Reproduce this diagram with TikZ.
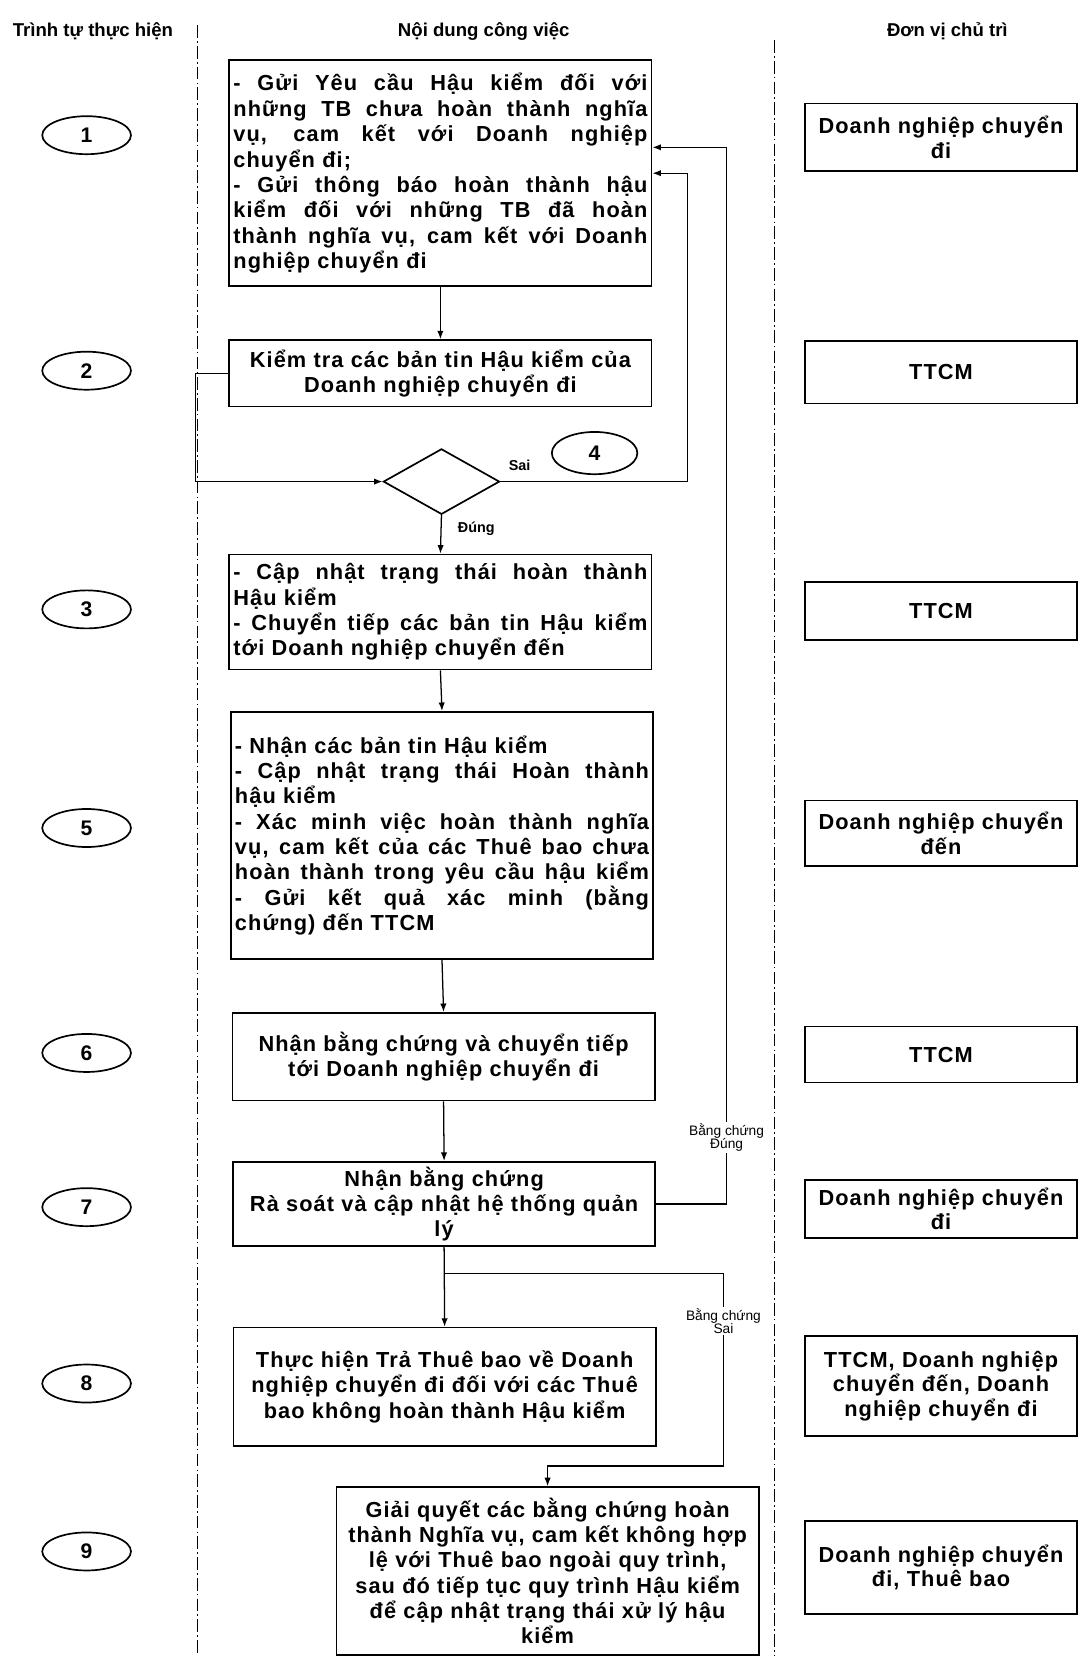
\documentclass[tikz,border=0pt]{standalone}
\usepackage{fontspec}
\setmainfont{Liberation Sans}
\newfontfamily\boxfont{Liberation Sans}[LetterSpace=5]
\newfontfamily\hdfont{Liberation Sans}
\usetikzlibrary{arrows.meta,shapes.geometric,calc}
\newcommand{\jl}[1]{\makebox[\linewidth][s]{\spaceskip=\fontdimen2\font plus 1fil\relax #1}\\}
\tikzset{
  pbox/.style={draw, line width=0.8pt, inner xsep=2pt, inner ysep=2pt, text width=196pt,
    font={\boxfont\bfseries\fontsize{10.3}{12}\selectfont}},
  jbox/.style={pbox, align=left},
  cbox/.style={pbox, align=center},
  rbox/.style={draw, line width=0.8pt, minimum width=129pt, text width=125pt, align=center, inner sep=2pt,
    font={\boxfont\bfseries\fontsize{10.3}{11.5}\selectfont}},
  numell/.style={ellipse, draw, line width=0.8pt, minimum width=42pt, minimum height=18pt, inner sep=0pt,
    font={\hdfont\bfseries\fontsize{10}{12}\selectfont}},
  arr/.style={-{Latex[length=4pt,width=3pt]}, line width=0.6pt},
  lane/.style={line width=0.5pt, dash pattern=on 6pt off 1.5pt on 0.8pt off 1.5pt},
  hdr/.style={font={\hdfont\bfseries\fontsize{8.8}{10}\selectfont}},
  lbl/.style={font={\hdfont\bfseries\fontsize{6.8}{7.5}\selectfont}, inner sep=0.5pt},
  lbl2/.style={font={\hdfont\fontsize{6.5}{6.5}\selectfont}, inner sep=0.5pt, fill=white, align=center},
}
\begin{document}
\begin{tikzpicture}[x=0.5pt,y=-0.5pt]
\useasboundingbox (0,0) rectangle (1021,1568);
% headers
\node[hdr] (h1) at (88,30) {Trình tự thực hiện};
\node[hdr] (h2) at (458,30) {Nội dung công việc};
\node[hdr] (h3) at (897,30) {Đơn vị chủ trì};
% lanes
\draw[lane] (187,24) -- (187,1568);
\draw[lane] (733,38) -- (733,1568);
% main boxes
\node[jbox, minimum height=107pt] (b1) at (417,164) {%
\jl{- Gửi Yêu cầu Hậu kiểm đối với}
\jl{những TB chưa hoàn thành nghĩa}
\jl{vụ, cam kết với Doanh nghiệp}
chuyển đi;\\
\jl{- Gửi thông báo hoàn thành hậu}
\jl{kiểm đối với những TB đã hoàn}
\jl{thành nghĩa vụ, cam kết với Doanh}
nghiệp chuyển đi};
\node[cbox, minimum height=31.5pt] (b2) at (417,353.5) {Kiểm tra các bản tin Hậu kiểm của\\Doanh nghiệp chuyển đi};
\node[diamond, draw, line width=0.8pt, minimum width=55pt, minimum height=31pt, inner sep=0pt] (dia) at (418,456) {};
\node[jbox, minimum height=54.5pt] (b3) at (417,579.5) {%
\jl{- Cập nhật trạng thái hoàn thành}
Hậu kiểm\\
\jl{- Chuyển tiếp các bản tin Hậu kiểm}
tới Doanh nghiệp chuyển đến};
\node[jbox, minimum height=117pt] (b5) at (418.5,791) {%
- Nhận các bản tin Hậu kiểm\\
\jl{- Cập nhật trạng thái Hoàn thành}
hậu kiểm\\
\jl{- Xác minh việc hoàn thành nghĩa}
\jl{vụ, cam kết của các Thuê bao chưa}
\jl{hoàn thành trong yêu cầu hậu kiểm}
\jl{- Gửi kết quả xác minh (bằng}
chứng) đến TTCM};
\node[cbox, minimum height=41.5pt] (b6) at (420,1000.5) {Nhận bằng chứng và chuyển tiếp\\tới Doanh nghiệp chuyển đi};
\node[cbox, minimum height=40pt] (b7) at (420.5,1140) {Nhận bằng chứng\\Rà soát và cập nhật hệ thống quản\\lý};
\node[cbox, minimum height=56pt] (b8) at (421,1313) {Thực hiện Trả Thuê bao về Doanh\\nghiệp chuyển đi đối với các Thuê\\bao không hoàn thành Hậu kiểm};
\node[cbox, minimum height=79.5pt] (b9) at (518.5,1487.5) {Giải quyết các bằng chứng hoàn\\thành Nghĩa vụ, cam kết không hợp\\lệ với Thuê bao ngoài quy trình,\\sau đó tiếp tục quy trình Hậu kiểm\\để cập nhật trạng thái xử lý hậu\\kiểm};
% step ellipses
\node[numell] (e1) at (82,128) {1};
\node[numell] (e2) at (82,351) {2};
\node[numell] (e3) at (82,577) {3};
\node[numell, minimum width=40.5pt, minimum height=20pt] (e4) at (563,429) {4};
\node[numell] (e5) at (82,784) {5};
\node[numell] (e6) at (82,997) {6};
\node[numell] (e7) at (82,1143) {7};
\node[numell] (e8) at (82,1310) {8};
\node[numell] (e9) at (82,1469) {9};
% right boxes
\node[rbox, minimum height=32pt] (r1) at (891,130) {Doanh nghiệp chuyển\\đi};
\node[rbox, minimum height=29.5pt] (r2) at (891,352.5) {TTCM};
\node[rbox, minimum height=27.5pt] (r3) at (891,578.5) {TTCM};
\node[rbox, minimum height=31pt] (r5) at (891,789) {Doanh nghiệp chuyển\\đến};
\node[rbox, minimum height=26.5pt] (r6) at (891,998.5) {TTCM};
\node[rbox, minimum height=27.5pt] (r7) at (891,1144.5) {Doanh nghiệp chuyển\\đi};
\node[rbox, minimum height=47.5pt] (r8) at (891,1312.5) {TTCM, Doanh nghiệp\\chuyển đến, Doanh\\nghiệp chuyển đi};
\node[rbox, minimum height=44pt] (r9) at (891,1484) {Doanh nghiệp chuyển\\đi, Thuê bao};
% connectors
\coordinate (lX) at (185,456);
\coordinate (sX) at (651,164);
\coordinate (dX) at (688,139.5);
\coordinate (yBr) at (0,1206);
\coordinate (brB) at (685,1388);
\draw[arr] (b1.south) -- (b2.north);
\draw[arr] (b2.west) -| (lX) -- (dia.west);
\draw[arr] (dia.east) -| (sX) -- (sX -| b1.east);
\draw[arr] (dia.south) -- (b3.north);
\draw[arr] (b3.south) -- (b5.north);
\draw[arr] (b5.south) -- (b6.north);
\draw[arr] (b6.south) -- (b7.north);
\draw[arr] (b7.east) -| (dX) -- (dX -| b1.east);
\draw[arr] (b7.south) -- (b8.north);
\coordinate (brA) at (b7.south |- yBr);
\draw[arr] (brA) -| (brB) -| (b9.north);
% labels
\node[lbl] (lsai) at (492,441) {Sai};
\node[lbl] (ldung) at (451,501) {Đúng};
\node[lbl2] (lbcd) at (688,1077) {Bằng chứng\\Đúng};
\node[lbl2] (lbcs) at (685,1251) {Bằng chứng\\Sai};
\end{tikzpicture}
\end{document}
